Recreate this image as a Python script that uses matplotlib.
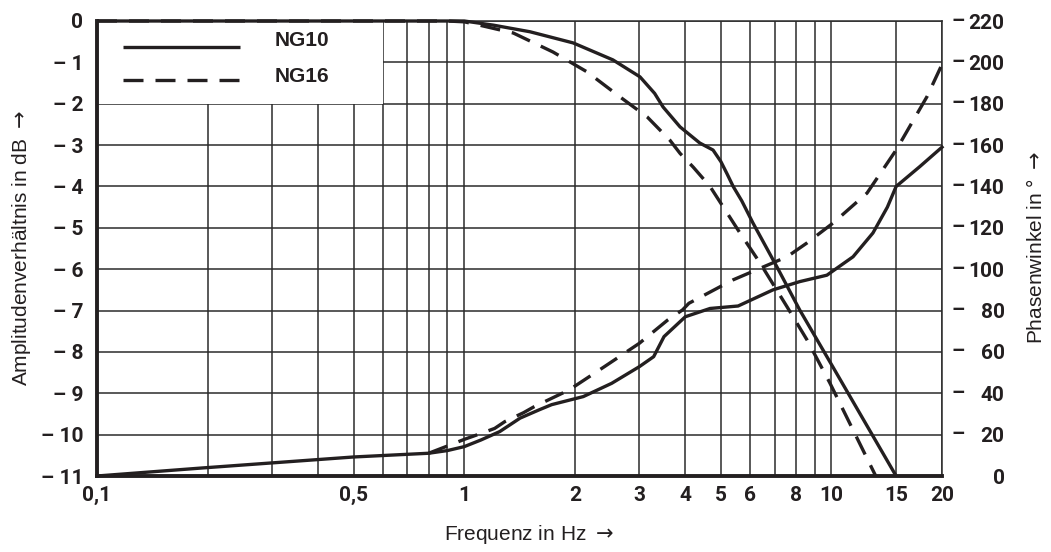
import matplotlib
matplotlib.use("Agg")
import matplotlib.pyplot as plt
from matplotlib.patches import Rectangle
from matplotlib.lines import Line2D
from matplotlib.transforms import blended_transform_factory

# ---------------- data ----------------
# Amplitude ratio (dB)
ng10_amp_f = [0.1, 0.9, 1.0, 1.2, 1.51, 1.98, 2.54, 3.01, 3.3, 3.48, 3.87, 4.38, 4.76, 5.0, 5.2, 5.4,
              5.7, 6.11, 7.11, 8.2, 10.1, 15.0]
ng10_amp_db = [0.0, 0.0, 0.0, -0.1, -0.26, -0.53, -0.94, -1.35, -1.75, -2.08, -2.56, -2.95, -3.12, -3.4,
               -3.7, -4.0, -4.35, -4.88, -5.95, -6.99, -8.37, -11.0]

ng16_amp_f = [0.1, 0.9, 1.0, 1.1, 1.36, 1.745, 2.16, 2.66, 3.15, 3.63, 3.87, 4.2, 4.67, 5.64, 6.39,
              7.57, 8.58, 9.9, 13.2]
ng16_amp_db = [0.0, 0.0, -0.02, -0.1, -0.29, -0.75, -1.23, -1.84, -2.32, -2.88, -3.2, -3.53, -4.0,
               -5.13, -5.85, -6.91, -7.71, -8.75, -11.0]

# Phase angle (degrees)
ng10_ph_f = [0.1, 0.194, 0.5, 0.8, 0.9, 1.0, 1.11, 1.25, 1.42, 1.6, 1.73, 2.11, 2.52, 3.0, 3.28,
             3.5, 4.0, 4.67, 5.57, 6.93, 8.2, 9.72, 11.45, 12.97, 14.2, 15.0, 17.4, 20.0]
ng10_ph_deg = [0.0, 3.9, 9.2, 11.0, 12.3, 14.2, 17.4, 21.5, 28.0, 32.0, 34.5, 38.4, 44.8, 52.9, 57.7,
               67.4, 77.0, 81.0, 82.2, 90.0, 94.0, 97.1, 106.0, 117.5, 130.0, 140.0, 149.6, 159.0]

ng16_ph_f = [0.8, 0.9, 1.0, 1.08, 1.21, 1.29, 1.45, 1.55, 1.93, 2.41, 3.0, 3.58, 3.93, 4.09, 5.39,
             7.57, 8.58, 10.1, 12.5, 15.0, 18.2, 20.0]
ng16_ph_deg = [11.0, 14.5, 17.7, 19.8, 23.0, 26.3, 30.6, 33.5, 41.6, 52.9, 64.2, 75.4, 80.3, 83.5, 94.8,
               106.0, 112.7, 122.3, 136.8, 157.6, 183.4, 199.0]

labels = ["NG10", "NG16"]

x_major = [0.1, 0.5, 1, 2, 3, 4, 5, 6, 8, 10, 15, 20]
x_major_labels = ["0,1", "0,5", "1", "2", "3", "4", "5", "6", "8", "10", "15", "20"]
x_minor = [0.2, 0.3, 0.4, 0.6, 0.7, 0.8, 0.9, 7, 9]
db_ticks = list(range(0, -12, -1))
db_labels = ["0"] + ["\u2013 %d" % (-v) for v in db_ticks[1:]]
ph_ticks = list(range(0, 221, 20))
ph_labels = [str(v) for v in ph_ticks]

# ---------------- style ----------------
INK = "#231f20"
GRID = "#2b2b2b"
tick_font = ["Roboto", "DejaVu Sans"]
text_font = ["Liberation Sans", "DejaVu Sans"]

fig = plt.figure(figsize=(10.51, 5.52), dpi=100)
ax = fig.add_axes([97 / 1051, 1 - 476 / 552, 845 / 1051, 455 / 552])
ax.set_xscale("log")
ax.set_xlim(0.1, 20)
ax.set_ylim(-11, 0)

ax.set_xticks(x_major)
ax.set_xticklabels(x_major_labels)
ax.set_xticks(x_minor, minor=True)
ax.set_xticklabels([], minor=True)
ax.set_yticks(db_ticks)
ax.set_yticklabels(db_labels)
ax.set_axisbelow(True)
ax.grid(True, which="both", axis="x", color=GRID, lw=1.1)
ax.grid(True, which="major", axis="y", color=GRID, lw=1.1)
ax.tick_params(axis="both", which="both", length=0)
ax.tick_params(axis="x", pad=7)
ax.tick_params(axis="y", pad=10)
for lab in ax.get_xticklabels() + ax.get_yticklabels():
    lab.set_fontfamily(tick_font)
    lab.set_fontweight("bold")
    lab.set_fontsize(15)
    lab.set_color(INK)

for side in ["left", "bottom"]:
    ax.spines[side].set_linewidth(2.8)
    ax.spines[side].set_color(INK)
for side in ["top", "right"]:
    ax.spines[side].set_linewidth(1.1)
    ax.spines[side].set_color(GRID)

# white box behind the legend
ax.add_patch(Rectangle((0.1, -2), 0.5, 2, facecolor="white", edgecolor="none", zorder=1))

dash = (6, 3.6)
LW = 2.4
ax.plot(ng10_amp_f, ng10_amp_db, color=INK, lw=LW, zorder=3, clip_on=False,
        solid_capstyle="butt", solid_joinstyle="round")
ax.plot(ng16_amp_f, ng16_amp_db, color=INK, lw=LW, zorder=3, clip_on=False,
        dashes=dash, dash_capstyle="butt")

# legend (drawn by hand to match the original layout)
leg_styles = [dict(), dict(dashes=dash, dash_capstyle="butt")]
leg_line_y = [0.943, 0.870]
leg_text_y = [0.957, 0.879]
for lab, st, ly, ty in zip(labels, leg_styles, leg_line_y, leg_text_y):
    ax.add_line(Line2D([0.031, 0.169], [ly, ly], transform=ax.transAxes, color=INK, lw=LW,
                       solid_capstyle="butt", zorder=4, **st))
    ax.text(0.2105, ty, lab, transform=ax.transAxes, ha="left", va="center",
            fontfamily=text_font, fontweight="bold", fontsize=15, color=INK, zorder=4)

# phase axis
ax2 = ax.twinx()
ax2.set_ylim(0, 220)
ax2.set_yticks(ph_ticks)
ax2.set_yticklabels(ph_labels)
ax2.tick_params(axis="y", length=0, pad=45)
for lab in ax2.get_yticklabels():
    lab.set_fontfamily(tick_font)
    lab.set_fontweight("bold")
    lab.set_fontsize(15)
    lab.set_color(INK)
    lab.set_horizontalalignment("right")
for s in ax2.spines.values():
    s.set_visible(False)

tr = blended_transform_factory(ax2.transAxes, ax2.transData)
for v in ph_ticks[1:]:
    ax2.text(1.0 + 16 / 845, v, "\u2013", transform=tr, ha="center", va="center",
             fontfamily=tick_font, fontweight="bold", fontsize=15, color=INK)

ax2.plot(ng10_ph_f, ng10_ph_deg, color=INK, lw=LW, zorder=3, clip_on=False,
         solid_joinstyle="round")
ax2.plot(ng16_ph_f, ng16_ph_deg, color=INK, lw=LW, zorder=3, clip_on=False,
         dashes=dash, dash_capstyle="butt")

# axis titles
fig.text(529 / 1051, 1 - 534 / 552, r"Frequenz in Hz $\rightarrow$", ha="center", va="center",
         fontfamily=text_font, fontsize=15, color=INK)
fig.text(22 / 1051, 1 - 248 / 552, r"Amplitudenverh\u00e4ltnis in dB $\rightarrow$".replace("\\u00e4", "\u00e4"),
         ha="center", va="center", rotation=90, fontfamily=text_font, fontsize=15, color=INK)
fig.text(1036 / 1051, 1 - 247 / 552, "Phasenwinkel in \u00b0 " + r"$\rightarrow$", ha="center", va="center",
         rotation=90, fontfamily=text_font, fontsize=15, color=INK)

fig.savefig("out.png", dpi=100)
